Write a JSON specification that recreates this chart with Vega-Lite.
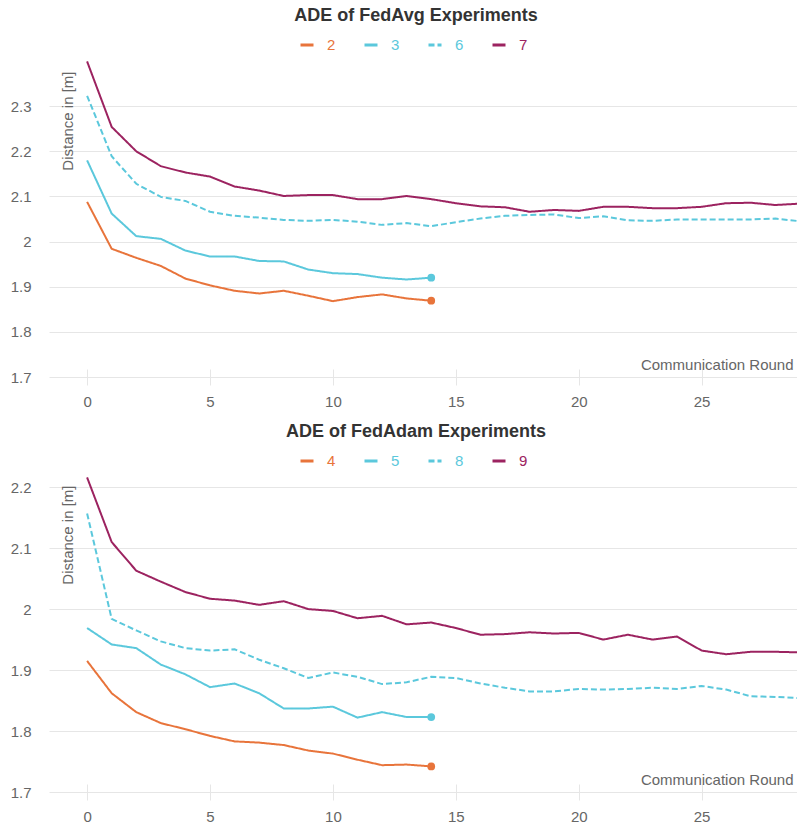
{
  "$schema": "https://vega.github.io/schema/vega-lite/v6.json",
  "background": "white",
  "padding": {"left": 10, "top": 7, "right": 0, "bottom": 0},
  "config": {
    "font": "Liberation Sans",
    "view": {"stroke": null},
    "concat": {"spacing": 14}
  },
  "resolve": {"scale": {"color": "independent", "strokeDash": "independent", "y": "independent"}},
  "vconcat": [
    {
      "width": 748,
      "height": 316,
      "title": {"text": "ADE of FedAvg Experiments", "fontSize": 18, "fontWeight": "bold", "color": "#333333", "anchor": "middle", "frame": "group", "dx": -7, "offset": 12},
      "data": {"values": [
        {"s":"2","r":0,"v":2.088},{"s":"2","r":1,"v":1.984},{"s":"2","r":2,"v":1.964},{"s":"2","r":3,"v":1.946},{"s":"2","r":4,"v":1.918},{"s":"2","r":5,"v":1.903},{"s":"2","r":6,"v":1.891},{"s":"2","r":7,"v":1.885},{"s":"2","r":8,"v":1.891},{"s":"2","r":9,"v":1.880},{"s":"2","r":10,"v":1.868},{"s":"2","r":11,"v":1.877},{"s":"2","r":12,"v":1.883},{"s":"2","r":13,"v":1.874},{"s":"2","r":14,"v":1.869},
        {"s":"3","r":0,"v":2.180},{"s":"3","r":1,"v":2.062},{"s":"3","r":2,"v":2.012},{"s":"3","r":3,"v":2.006},{"s":"3","r":4,"v":1.980},{"s":"3","r":5,"v":1.967},{"s":"3","r":6,"v":1.967},{"s":"3","r":7,"v":1.957},{"s":"3","r":8,"v":1.956},{"s":"3","r":9,"v":1.938},{"s":"3","r":10,"v":1.930},{"s":"3","r":11,"v":1.928},{"s":"3","r":12,"v":1.920},{"s":"3","r":13,"v":1.916},{"s":"3","r":14,"v":1.920},
        {"s":"6","r":0,"v":2.323},{"s":"6","r":1,"v":2.189},{"s":"6","r":2,"v":2.128},{"s":"6","r":3,"v":2.099},{"s":"6","r":4,"v":2.090},{"s":"6","r":5,"v":2.066},{"s":"6","r":6,"v":2.057},{"s":"6","r":7,"v":2.053},{"s":"6","r":8,"v":2.048},{"s":"6","r":9,"v":2.046},{"s":"6","r":10,"v":2.048},{"s":"6","r":11,"v":2.044},{"s":"6","r":12,"v":2.037},{"s":"6","r":13,"v":2.041},{"s":"6","r":14,"v":2.034},{"s":"6","r":15,"v":2.043},{"s":"6","r":16,"v":2.051},{"s":"6","r":17,"v":2.057},{"s":"6","r":18,"v":2.059},{"s":"6","r":19,"v":2.060},{"s":"6","r":20,"v":2.052},{"s":"6","r":21,"v":2.056},{"s":"6","r":22,"v":2.047},{"s":"6","r":23,"v":2.046},{"s":"6","r":24,"v":2.049},{"s":"6","r":25,"v":2.049},{"s":"6","r":26,"v":2.049},{"s":"6","r":27,"v":2.049},{"s":"6","r":28,"v":2.051},{"s":"6","r":29,"v":2.045},
        {"s":"7","r":0,"v":2.399},{"s":"7","r":1,"v":2.254},{"s":"7","r":2,"v":2.200},{"s":"7","r":3,"v":2.167},{"s":"7","r":4,"v":2.153},{"s":"7","r":5,"v":2.144},{"s":"7","r":6,"v":2.122},{"s":"7","r":7,"v":2.113},{"s":"7","r":8,"v":2.101},{"s":"7","r":9,"v":2.103},{"s":"7","r":10,"v":2.103},{"s":"7","r":11,"v":2.094},{"s":"7","r":12,"v":2.094},{"s":"7","r":13,"v":2.101},{"s":"7","r":14,"v":2.094},{"s":"7","r":15,"v":2.085},{"s":"7","r":16,"v":2.078},{"s":"7","r":17,"v":2.076},{"s":"7","r":18,"v":2.066},{"s":"7","r":19,"v":2.070},{"s":"7","r":20,"v":2.068},{"s":"7","r":21,"v":2.077},{"s":"7","r":22,"v":2.077},{"s":"7","r":23,"v":2.074},{"s":"7","r":24,"v":2.074},{"s":"7","r":25,"v":2.077},{"s":"7","r":26,"v":2.085},{"s":"7","r":27,"v":2.086},{"s":"7","r":28,"v":2.081},{"s":"7","r":29,"v":2.084}
      ]},
      "layer": [
        {
          "mark": {"type": "line", "strokeWidth": 2, "clip": true},
          "encoding": {
            "x": {"field": "r", "type": "quantitative", "scale": {"domain": [-1.55, 28.88], "nice": false, "zero": false},
              "axis": {"values": [0, 5, 10, 15, 20, 25], "grid": false, "domain": false, "ticks": true, "tickSize": 16, "tickColor": "#e6e6e6", "tickWidth": 1, "offset": -8, "labelFontSize": 15, "labelColor": "#666666", "labelPadding": 9, "title": "Communication Round", "titleFontSize": 15, "titleFontWeight": "normal", "titleColor": "#666666", "titleX": 744, "titleY": -5, "titleAlign": "right", "titleBaseline": "middle"}},
            "y": {"field": "v", "type": "quantitative", "scale": {"domain": [1.7, 2.4], "nice": false, "zero": false},
              "axis": {"values": [1.7, 1.8, 1.9, 2.0, 2.1, 2.2, 2.3], "format": "~g", "grid": true, "gridColor": "#e6e6e6", "domain": false, "ticks": false, "labelFontSize": 15, "labelColor": "#666666", "labelPadding": 18, "title": "Distance in [m]", "titleFontSize": 15, "titleFontWeight": "normal", "titleColor": "#666666", "titleX": 18, "titleY": 10, "titleAngle": -90, "titleAlign": "right", "titleBaseline": "middle"}},
            "color": {"field": "s", "type": "nominal", "scale": {"domain": ["2", "3", "6", "7"], "range": ["#e8743b", "#5bc8dc", "#5bc8dc", "#9c2360"]},
              "legend": {"orient": "none", "legendX": 250, "legendY": -24, "title": null, "direction": "horizontal", "labelFontSize": 15, "labelOffset": 12, "columnPadding": 22, "symbolType": "stroke", "symbolSize": 169, "symbolStrokeWidth": 3,
                "encode": {"labels": {"update": {"fill": {"signal": "datum.value == '2' ? '#e8743b' : datum.value == '7' ? '#9c2360' : '#5bc8dc'"}}}}}},
            "strokeDash": {"field": "s", "type": "nominal", "scale": {"domain": ["2", "3", "6", "7"], "range": [[1, 0], [1, 0], [6, 3], [1, 0]]}}
          }
        },
        {
          "transform": [{"filter": "datum.r == 14 && (datum.s == '2' || datum.s == '3')"}],
          "mark": {"type": "point", "filled": true, "size": 60, "opacity": 1},
          "encoding": {
            "x": {"field": "r", "type": "quantitative"},
            "y": {"field": "v", "type": "quantitative"},
            "color": {"field": "s", "type": "nominal"}
          }
        }
      ]
    },
    {
      "width": 748,
      "height": 317,
      "title": {"text": "ADE of FedAdam Experiments", "fontSize": 18, "fontWeight": "bold", "color": "#333333", "anchor": "middle", "frame": "group", "dx": -7, "offset": 12},
      "data": {"values": [
        {"s":"4","r":0,"v":1.915},{"s":"4","r":1,"v":1.862},{"s":"4","r":2,"v":1.831},{"s":"4","r":3,"v":1.813},{"s":"4","r":4,"v":1.803},{"s":"4","r":5,"v":1.792},{"s":"4","r":6,"v":1.783},{"s":"4","r":7,"v":1.781},{"s":"4","r":8,"v":1.777},{"s":"4","r":9,"v":1.768},{"s":"4","r":10,"v":1.763},{"s":"4","r":11,"v":1.753},{"s":"4","r":12,"v":1.744},{"s":"4","r":13,"v":1.745},{"s":"4","r":14,"v":1.742},
        {"s":"5","r":0,"v":1.969},{"s":"5","r":1,"v":1.942},{"s":"5","r":2,"v":1.936},{"s":"5","r":3,"v":1.909},{"s":"5","r":4,"v":1.893},{"s":"5","r":5,"v":1.872},{"s":"5","r":6,"v":1.878},{"s":"5","r":7,"v":1.862},{"s":"5","r":8,"v":1.837},{"s":"5","r":9,"v":1.837},{"s":"5","r":10,"v":1.840},{"s":"5","r":11,"v":1.822},{"s":"5","r":12,"v":1.831},{"s":"5","r":13,"v":1.823},{"s":"5","r":14,"v":1.823},
        {"s":"8","r":0,"v":2.157},{"s":"8","r":1,"v":1.984},{"s":"8","r":2,"v":1.965},{"s":"8","r":3,"v":1.947},{"s":"8","r":4,"v":1.936},{"s":"8","r":5,"v":1.932},{"s":"8","r":6,"v":1.934},{"s":"8","r":7,"v":1.917},{"s":"8","r":8,"v":1.903},{"s":"8","r":9,"v":1.887},{"s":"8","r":10,"v":1.896},{"s":"8","r":11,"v":1.889},{"s":"8","r":12,"v":1.877},{"s":"8","r":13,"v":1.880},{"s":"8","r":14,"v":1.889},{"s":"8","r":15,"v":1.887},{"s":"8","r":16,"v":1.878},{"s":"8","r":17,"v":1.871},{"s":"8","r":18,"v":1.865},{"s":"8","r":19,"v":1.865},{"s":"8","r":20,"v":1.869},{"s":"8","r":21,"v":1.868},{"s":"8","r":22,"v":1.869},{"s":"8","r":23,"v":1.871},{"s":"8","r":24,"v":1.869},{"s":"8","r":25,"v":1.874},{"s":"8","r":26,"v":1.868},{"s":"8","r":27,"v":1.857},{"s":"8","r":28,"v":1.856},{"s":"8","r":29,"v":1.854},
        {"s":"9","r":0,"v":2.216},{"s":"9","r":1,"v":2.110},{"s":"9","r":2,"v":2.063},{"s":"9","r":3,"v":2.045},{"s":"9","r":4,"v":2.028},{"s":"9","r":5,"v":2.017},{"s":"9","r":6,"v":2.014},{"s":"9","r":7,"v":2.007},{"s":"9","r":8,"v":2.013},{"s":"9","r":9,"v":2.000},{"s":"9","r":10,"v":1.997},{"s":"9","r":11,"v":1.985},{"s":"9","r":12,"v":1.989},{"s":"9","r":13,"v":1.975},{"s":"9","r":14,"v":1.978},{"s":"9","r":15,"v":1.969},{"s":"9","r":16,"v":1.958},{"s":"9","r":17,"v":1.959},{"s":"9","r":18,"v":1.962},{"s":"9","r":19,"v":1.960},{"s":"9","r":20,"v":1.961},{"s":"9","r":21,"v":1.950},{"s":"9","r":22,"v":1.958},{"s":"9","r":23,"v":1.950},{"s":"9","r":24,"v":1.955},{"s":"9","r":25,"v":1.932},{"s":"9","r":26,"v":1.926},{"s":"9","r":27,"v":1.930},{"s":"9","r":28,"v":1.930},{"s":"9","r":29,"v":1.929}
      ]},
      "layer": [
        {
          "mark": {"type": "line", "strokeWidth": 2, "clip": true},
          "encoding": {
            "x": {"field": "r", "type": "quantitative", "scale": {"domain": [-1.55, 28.88], "nice": false, "zero": false},
              "axis": {"values": [0, 5, 10, 15, 20, 25], "grid": false, "domain": false, "ticks": true, "tickSize": 16, "tickColor": "#e6e6e6", "tickWidth": 1, "offset": -8, "labelFontSize": 15, "labelColor": "#666666", "labelPadding": 9, "title": "Communication Round", "titleFontSize": 15, "titleFontWeight": "normal", "titleColor": "#666666", "titleX": 744, "titleY": -5, "titleAlign": "right", "titleBaseline": "middle"}},
            "y": {"field": "v", "type": "quantitative", "scale": {"domain": [1.7, 2.22], "nice": false, "zero": false},
              "axis": {"values": [1.7, 1.8, 1.9, 2.0, 2.1, 2.2], "format": "~g", "grid": true, "gridColor": "#e6e6e6", "domain": false, "ticks": false, "labelFontSize": 15, "labelColor": "#666666", "labelPadding": 18, "title": "Distance in [m]", "titleFontSize": 15, "titleFontWeight": "normal", "titleColor": "#666666", "titleX": 18, "titleY": 10, "titleAngle": -90, "titleAlign": "right", "titleBaseline": "middle"}},
            "color": {"field": "s", "type": "nominal", "scale": {"domain": ["4", "5", "8", "9"], "range": ["#e8743b", "#5bc8dc", "#5bc8dc", "#9c2360"]},
              "legend": {"orient": "none", "legendX": 250, "legendY": -22, "title": null, "direction": "horizontal", "labelFontSize": 15, "labelOffset": 12, "columnPadding": 22, "symbolType": "stroke", "symbolSize": 169, "symbolStrokeWidth": 3,
                "encode": {"labels": {"update": {"fill": {"signal": "datum.value == '4' ? '#e8743b' : datum.value == '9' ? '#9c2360' : '#5bc8dc'"}}}}}},
            "strokeDash": {"field": "s", "type": "nominal", "scale": {"domain": ["4", "5", "8", "9"], "range": [[1, 0], [1, 0], [6, 3], [1, 0]]}}
          }
        },
        {
          "transform": [{"filter": "datum.r == 14 && (datum.s == '4' || datum.s == '5')"}],
          "mark": {"type": "point", "filled": true, "size": 60, "opacity": 1},
          "encoding": {
            "x": {"field": "r", "type": "quantitative"},
            "y": {"field": "v", "type": "quantitative"},
            "color": {"field": "s", "type": "nominal"}
          }
        }
      ]
    }
  ]
}
